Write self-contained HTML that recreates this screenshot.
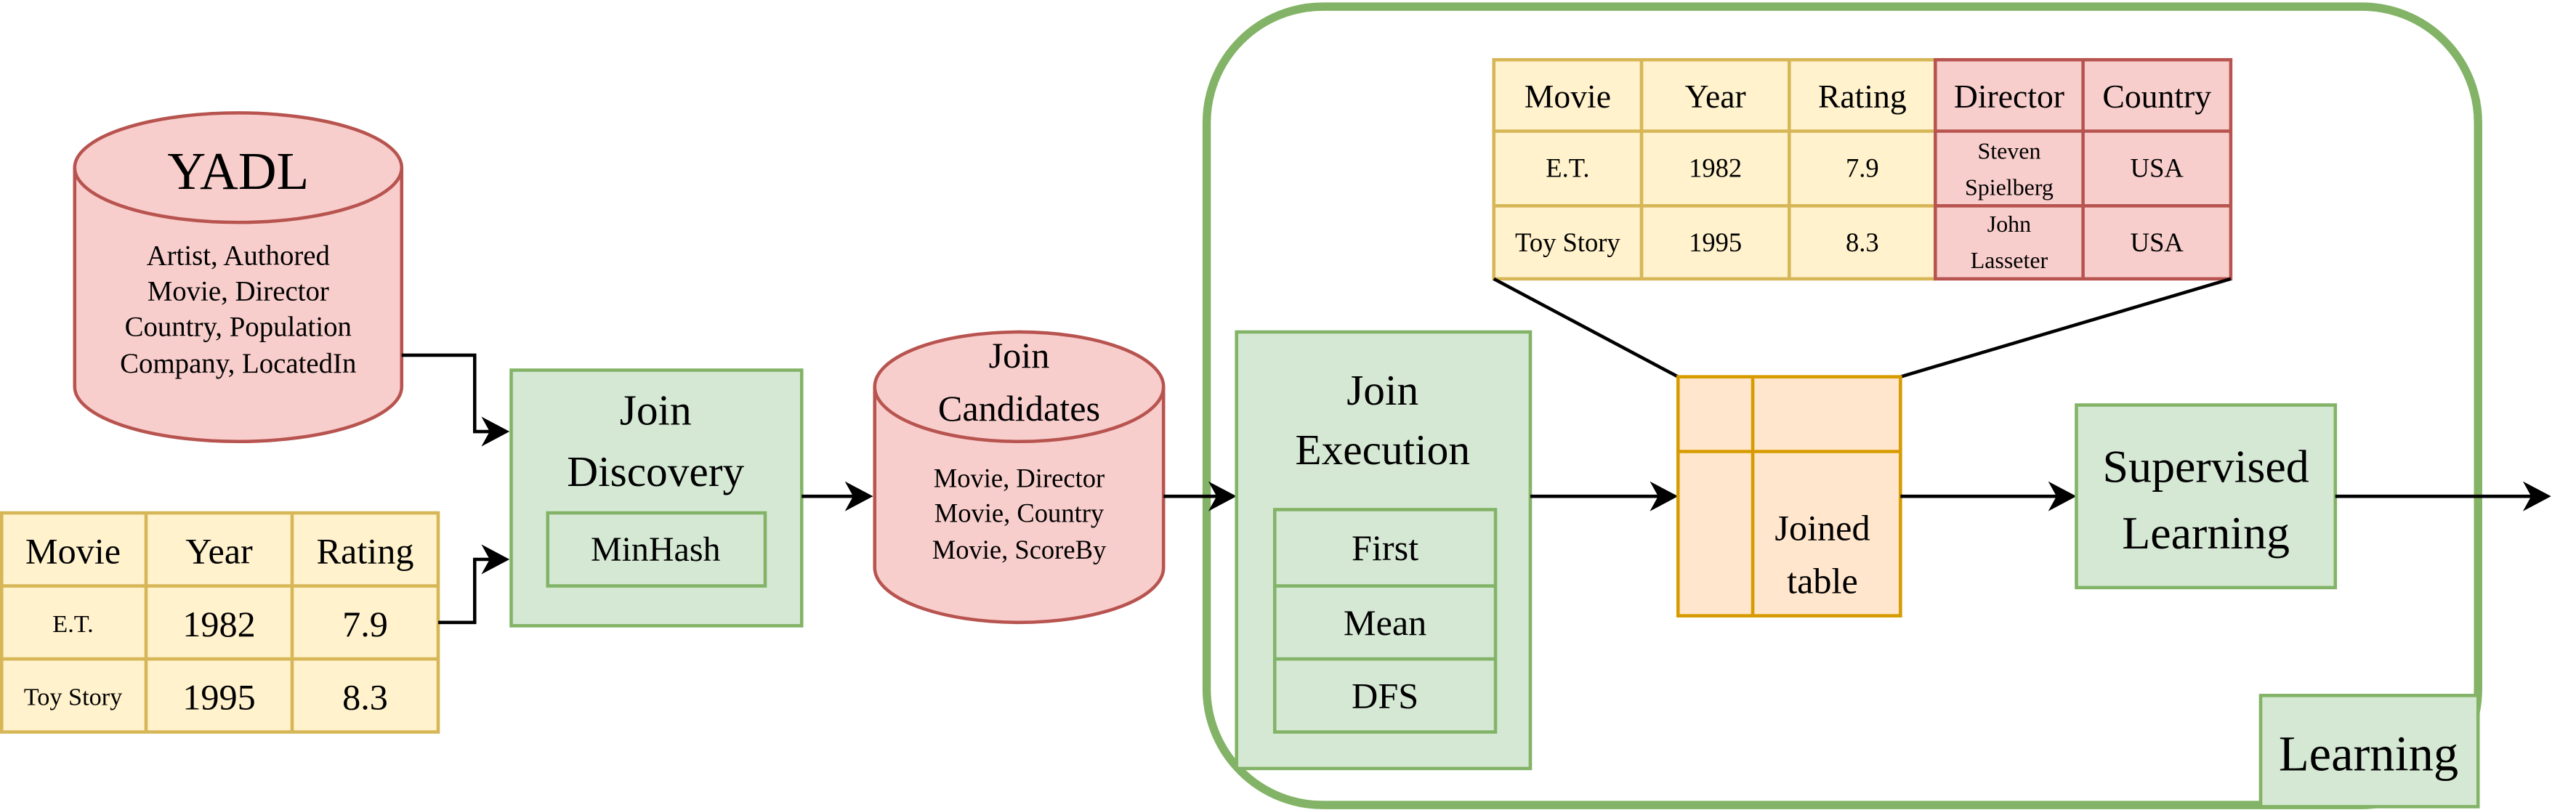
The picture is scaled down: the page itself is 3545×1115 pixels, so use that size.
<!DOCTYPE html>
<html><head><meta charset="utf-8"><style>html,body{margin:0;padding:0;background:#fff}svg{display:block}svg text{font-family:"Liberation Serif","DejaVu Serif",serif}</style></head>
<body>
<svg width="3545" height="1115" viewBox="0 0 1552 488" preserveAspectRatio="none" xmlns="http://www.w3.org/2000/svg">
<g text-anchor="middle" dominant-baseline="central" font-family="'Liberation Serif', 'DejaVu Serif', serif" fill="#000">
<rect x="727" y="4" width="766" height="481" rx="70" ry="70" fill="none" stroke="#82b366" stroke-width="5"/>

<path d="M45,101 A98.5,33 0 0 1 242,101 L242,233 A98.5,33 0 0 1 45,233 Z" fill="#f8cecc" stroke="#b85450" stroke-width="2"/>
<path d="M45,101 A98.5,33 0 0 0 242,101" fill="none" stroke="#b85450" stroke-width="2"/>
<text x="143.5" y="103" font-size="32">YADL</text>
<text x="143.5" y="154" font-size="17">Artist, Authored</text>
<text x="143.5" y="175.5" font-size="17">Movie, Director</text>
<text x="143.5" y="197" font-size="17">Country, Population</text>
<text x="143.5" y="219" font-size="17">Company, LocatedIn</text>

<rect x="1" y="309" width="263" height="132" fill="#fff2cc" stroke="#d6b656" stroke-width="2"/>
<path d="M88,309V441M176,309V441M1,353H264M1,397H264" stroke="#d6b656" stroke-width="2"/>
<text x="44" y="332" font-size="22">Movie</text>
<text x="132" y="332" font-size="22">Year</text>
<text x="220" y="332" font-size="22">Rating</text>
<text x="44" y="376" font-size="15">E.T.</text>
<text x="132" y="376" font-size="22">1982</text>
<text x="220" y="376" font-size="22">7.9</text>
<text x="44" y="420" font-size="15">Toy Story</text>
<text x="132" y="420" font-size="22">1995</text>
<text x="220" y="420" font-size="22">8.3</text>

<path d="M242,214H286V260H298" fill="none" stroke="#000" stroke-width="2"/>
<path d="M264,375H286V337H298" fill="none" stroke="#000" stroke-width="2"/>
<polygon points="307,260 290,251 295,260 290,269"/>
<polygon points="307,337 290,328 295,337 290,346"/>

<rect x="308" y="223" width="175" height="154" fill="#d5e8d4" stroke="#82b366" stroke-width="2"/>
<text x="395" y="247" font-size="26">Join</text>
<text x="395" y="284" font-size="26">Discovery</text>
<rect x="330" y="309" width="131" height="44" fill="#d5e8d4" stroke="#82b366" stroke-width="2"/>
<text x="395" y="331" font-size="21">MinHash</text>

<path d="M483,299H515" stroke="#000" stroke-width="2"/>
<polygon points="526,299 509,290 514,299 509,308"/>

<path d="M527,233 A87,33 0 0 1 701,233 L701,342 A87,33 0 0 1 527,342 Z" fill="#f8cecc" stroke="#b85450" stroke-width="2"/>
<path d="M527,233 A87,33 0 0 0 701,233" fill="none" stroke="#b85450" stroke-width="2"/>
<text x="614" y="214" font-size="22">Join</text>
<text x="614" y="246" font-size="22">Candidates</text>
<text x="614" y="288" font-size="16">Movie, Director</text>
<text x="614" y="309" font-size="16">Movie, Country</text>
<text x="614" y="331" font-size="16">Movie, ScoreBy</text>

<path d="M701,299H734" stroke="#000" stroke-width="2"/>
<polygon points="745,299 728,290 733,299 728,308"/>

<rect x="745" y="200" width="177" height="263" fill="#d5e8d4" stroke="#82b366" stroke-width="2"/>
<text x="833" y="235" font-size="26">Join</text>
<text x="833" y="271" font-size="26">Execution</text>
<rect x="768" y="307" width="133" height="134" fill="#d5e8d4" stroke="#82b366" stroke-width="2"/>
<path d="M768,353H901M768,397H901" stroke="#82b366" stroke-width="2"/>
<text x="834.5" y="330" font-size="22">First</text>
<text x="834.5" y="375" font-size="22">Mean</text>
<text x="834.5" y="419" font-size="22">DFS</text>

<path d="M922,299H1000" stroke="#000" stroke-width="2"/>
<polygon points="1011,299 994,290 999,299 994,308"/>

<rect x="900" y="36" width="266" height="132" fill="#fff2cc" stroke="#d6b656" stroke-width="2"/>
<path d="M989,36V168M1078,36V168M900,79H1166M900,124H1166" stroke="#d6b656" stroke-width="2"/>
<rect x="1166" y="36" width="178" height="132" fill="#f8cecc" stroke="#b85450" stroke-width="2"/>
<path d="M1255,36V168M1166,79H1344M1166,124H1344" stroke="#b85450" stroke-width="2"/>
<text x="944.5" y="58" font-size="20">Movie</text>
<text x="1033.5" y="58" font-size="20">Year</text>
<text x="1122" y="58" font-size="20">Rating</text>
<text x="1210.5" y="58" font-size="20">Director</text>
<text x="1299.5" y="58" font-size="20">Country</text>
<text x="944.5" y="101" font-size="16">E.T.</text>
<text x="1033.5" y="101" font-size="16">1982</text>
<text x="1122" y="101" font-size="16">7.9</text>
<text x="1210.5" y="91" font-size="14">Steven</text>
<text x="1210.5" y="113" font-size="14">Spielberg</text>
<text x="1299.5" y="101" font-size="16">USA</text>
<text x="944.5" y="146" font-size="16">Toy Story</text>
<text x="1033.5" y="146" font-size="16">1995</text>
<text x="1122" y="146" font-size="16">8.3</text>
<text x="1210.5" y="135" font-size="14">John</text>
<text x="1210.5" y="157" font-size="14">Lasseter</text>
<text x="1299.5" y="146" font-size="16">USA</text>

<path d="M900,168L1011,227M1344,168L1145,227" stroke="#000" stroke-width="2"/>

<rect x="1011" y="227" width="134" height="144" fill="#ffe6cc" stroke="#d79b00" stroke-width="2"/>
<path d="M1056,227V371M1011,272H1145" stroke="#d79b00" stroke-width="2"/>
<text x="1098" y="318" font-size="22">Joined</text>
<text x="1098" y="350" font-size="22">table</text>

<path d="M1145,299H1240" stroke="#000" stroke-width="2"/>
<polygon points="1251,299 1234,290 1239,299 1234,308"/>

<rect x="1251" y="244" width="156" height="110" fill="#d5e8d4" stroke="#82b366" stroke-width="2"/>
<text x="1329" y="281" font-size="28">Supervised</text>
<text x="1329" y="321" font-size="28">Learning</text>

<path d="M1407,299H1526" stroke="#000" stroke-width="2"/>
<polygon points="1537,299 1520,290 1525,299 1520,308"/>

<rect x="1362" y="419" width="131" height="67" fill="#d5e8d4" stroke="#82b366" stroke-width="2"/>
<text x="1427" y="454" font-size="30">Learning</text>
</g>
</svg>
</body></html>
